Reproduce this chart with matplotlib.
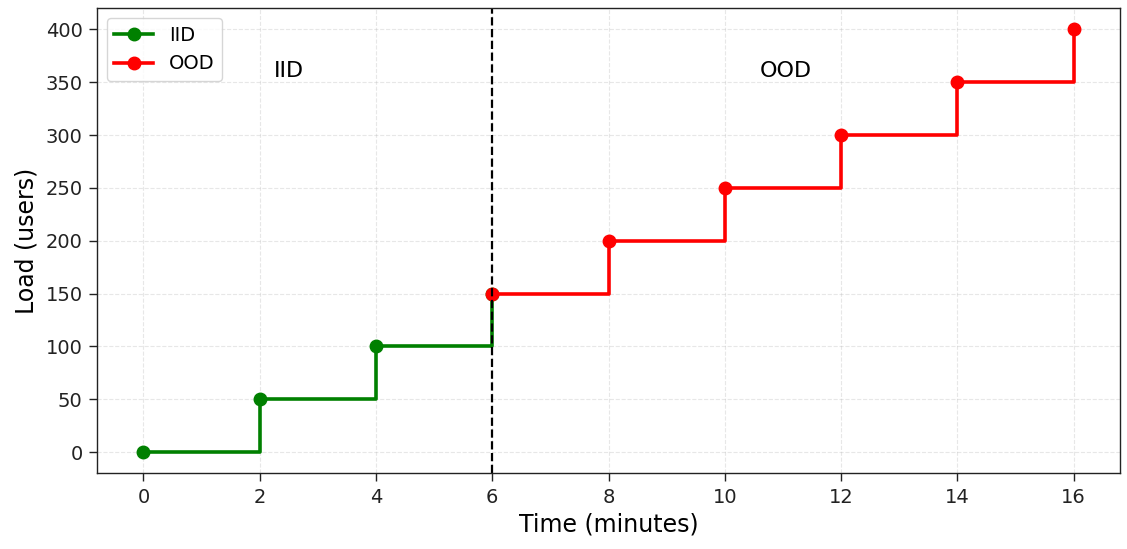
import matplotlib.pyplot as plt

# load schedule (users every 2 minutes)
iid_time = [0, 2, 4, 6]
iid_load = [0, 50, 100, 150]
ood_time = [6, 8, 10, 12, 14, 16]
ood_load = [150, 200, 250, 300, 350, 400]
split_time = 6

fig, ax = plt.subplots(figsize=(11.27, 5.49), dpi=100)
fig.subplots_adjust(left=0.086, right=0.994, top=0.985, bottom=0.138)

ax.plot(iid_time, iid_load, drawstyle="steps-post", color="green",
        marker="o", markersize=9, linewidth=2.6, label="IID")
ax.plot(ood_time, ood_load, drawstyle="steps-post", color="red",
        marker="o", markersize=9, linewidth=2.6, label="OOD")

ax.axvline(split_time, color="black", linestyle="--", linewidth=1.6)

ax.text(2.5, 361, "IID", fontsize=16, ha="center", va="center")
ax.text(11.05, 361, "OOD", fontsize=16, ha="center", va="center")

ax.set_xticks(range(0, 17, 2))
ax.set_xlabel("Time (minutes)", fontsize=17)
ax.set_ylabel("Load (users)", fontsize=17, labelpad=5)
ax.tick_params(labelsize=14, colors="#222222", length=5.8, width=1.0, pad=4.5)
for s in ax.spines.values():
    s.set_color("#222222")
    s.set_linewidth(1.0)
ax.grid(True, linestyle="--", alpha=0.3)
ax.legend(loc="upper left", fontsize=14)

plt.savefig("out.png", dpi=100)
